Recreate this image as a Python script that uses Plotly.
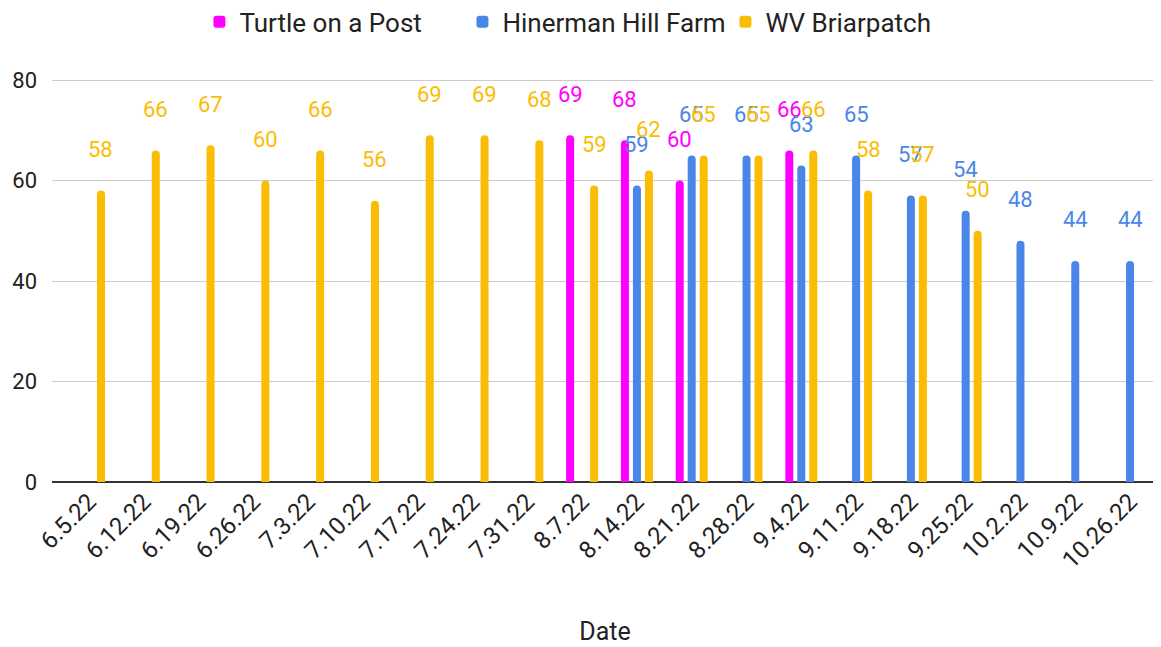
import plotly.graph_objects as go

dates = ["6.5.22", "6.12.22", "6.19.22", "6.26.22", "7.3.22", "7.10.22", "7.17.22",
         "7.24.22", "7.31.22", "8.7.22", "8.14.22", "8.21.22", "8.28.22", "9.4.22",
         "9.11.22", "9.18.22", "9.25.22", "10.2.22", "10.9.22", "10.26.22"]

turtle = [None, None, None, None, None, None, None, None, None, 69, 68, 60, None, 66,
          None, None, None, None, None, None]
hinerman = [None, None, None, None, None, None, None, None, None, None, 59, 65, 65, 63,
            65, 57, 54, 48, 44, 44]
briarpatch = [58, 66, 67, 60, 66, 56, 69, 69, 68, 59, 62, 65, 65, 66,
              58, 57, 50, None, None, None]

series = [
    ("Turtle on a Post", turtle, "#ff00ff", -12),
    ("Hinerman Hill Farm", hinerman, "#4a86e8", 0),
    ("WV Briarpatch", briarpatch, "#fbbc04", 12),
]

FONT = "Roboto, Arial, sans-serif"

fig = go.Figure()
annotations = []
for name, vals, color, xs in series:
    fig.add_trace(go.Bar(name=name, x=dates, y=vals, marker_color=color,
                         marker_line_width=0))
    for d, v in zip(dates, vals):
        if v is None:
            continue
        annotations.append(dict(x=d, y=v, text=str(v), showarrow=False,
                                xshift=xs, yshift=41, yanchor="middle",
                                font=dict(family=FONT, size=22, color=color)))

fig.update_layout(
    width=1153, height=639,
    margin=dict(l=44, r=3, t=62, b=165, autoexpand=False),
    paper_bgcolor="white", plot_bgcolor="white",
    barmode="group", bargap=0.343, bargroupgap=0.333,
    barcornerradius=4,
    font=dict(family=FONT, size=22, color="#222222"),
    legend=dict(orientation="h", x=0.49, xanchor="center", y=1.117, yanchor="middle",
                entrywidth=218, entrywidthmode="pixels",
                font=dict(size=26, color="#222222"), traceorder="normal"),
    annotations=annotations,
    xaxis=dict(type="category", range=[-0.675, 19.51], tickangle=-45,
               showgrid=False, showline=False, ticks="", automargin=False,
               tickfont=dict(size=24, color="#222222"),
               title=dict(text="Date", font=dict(size=25, color="#222222"), standoff=49)),
    yaxis=dict(range=[0, 82], tickvals=[0, 20, 40, 60, 80], showgrid=True,
               gridcolor="#cccccc", gridwidth=1, zeroline=True, zerolinecolor="#333333",
               zerolinewidth=2, showline=False, ticks="", ticklabelstandoff=14,
               automargin=False, tickfont=dict(size=22, color="#222222")),
)

fig.write_html("out.html")
